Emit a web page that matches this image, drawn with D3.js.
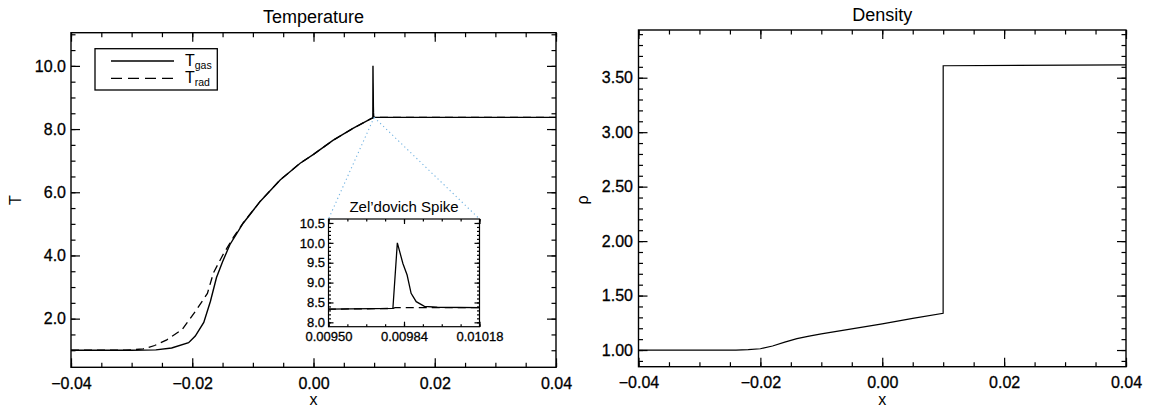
<!DOCTYPE html>
<html lang="en">
<head>
<title>Temperature and density</title>
<meta charset="utf-8">
<script src="https://d3js.org/d3.v7.min.js"></script>
<style type="text/css">
  body { margin: 0; background: #fff; }
  svg { font-family: 'Liberation Sans', Arial, Helvetica, sans-serif; }
  .tick line { stroke: #000; stroke-width: 1.2; }
  .tick text { fill: #000; stroke: #000; stroke-width: 0.3; }
</style>
</head>
<body>
<div id="chart"></div>
<script>

/* Data */
/* ========================== */

// Temperature panel
var tgasX = [-0.040, -0.030, -0.026, -0.0234, -0.0206, -0.0195, -0.0181, -0.0170, -0.0160, -0.0150,
             -0.0138, -0.0116, -0.0088, -0.0055, -0.0022, 0.0000, 0.0032, 0.0065, 0.0095, 0.00979,
             0.00981, 0.009835, 0.009854, 0.009872, 0.009895, 0.009932, 0.00999, 0.0102, 0.040];
var tgasY = [1.00, 1.00, 1.01, 1.07, 1.24, 1.45, 1.88, 2.55, 3.30, 3.80,
             4.34, 5.02, 5.71, 6.39, 6.92, 7.20, 7.64, 8.02, 8.33, 8.35,
             10.00, 9.48, 9.19, 8.73, 8.52, 8.40, 8.38, 8.37, 8.37];

var tradX = [-0.040, -0.031, -0.0281, -0.0262, -0.0242, -0.0217, -0.0193, -0.0175, -0.0165, -0.0150,
             -0.0132, -0.0116, -0.0088, -0.0055, -0.0022, 0.0000, 0.0032, 0.0065, 0.0095, 0.00979,
             0.0098, 0.040];
var tradY = [1.00, 1.00, 1.04, 1.15, 1.33, 1.65, 2.28, 2.80, 3.45, 4.00,
             4.58, 5.03, 5.71, 6.39, 6.92, 7.20, 7.64, 8.02, 8.33, 8.35,
             8.37, 8.37];

var tempXTicks = [-0.04, -0.02, 0.00, 0.02, 0.04];
var tempYTicks = [2.0, 4.0, 6.0, 8.0, 10.0];

// Inset (Zel'dovich spike)
var insetXTicks = [0.00950, 0.00984, 0.01018];
var insetYTicks = [8.0, 8.5, 9.0, 9.5, 10.0, 10.5];

// Density panel
var rhoX = [-0.040, -0.024, -0.022, -0.020, -0.018, -0.016, -0.014, -0.012, -0.010, -0.006,
            0.0000, 0.0050, 0.00999, 0.0100, 0.040];
var rhoY = [1.000, 1.000, 1.003, 1.012, 1.037, 1.072, 1.104, 1.128, 1.148, 1.185,
            1.240, 1.290, 1.337, 3.610, 3.617];

var rhoYTicks = [1.00, 1.50, 2.00, 2.50, 3.00, 3.50];

var seriesNames = ['gas', 'rad'];


/* Set up svg */
/* ========== */

var width = 1152,
    height = 411;

var svg = d3.select('#chart').append('svg')
    .attr('width', width)
    .attr('height', height);

function toPoints(xs, ys) {
  return xs.map(function(d, i) { return [d, ys[i]]; });
}

// Draws a framed panel with inward ticks on all four sides
function drawFrame(g, x, y, o) {

  var w = x.range()[1] - x.range()[0],
      h = y.range()[0] - y.range()[1];

  var axisFns = [d3.axisBottom, d3.axisTop, d3.axisLeft, d3.axisRight];
  var sides = [
    { tr: [0, h], vals: o.xTicks, fmt: o.xFmt, minor: o.xMinor },
    { tr: [0, 0], vals: o.xTicks, fmt: null,   minor: o.xMinor },
    { tr: [0, 0], vals: o.yTicks, fmt: o.yFmt, minor: o.yMinor },
    { tr: [w, 0], vals: o.yTicks, fmt: null,   minor: o.yMinor }
  ];

  sides.forEach(function(s, i) {
    var isX = i < 2;
    var sc = isX ? x : y;

    // major ticks (labels on bottom and left only)
    var major = g.append('g')
        .attr('transform', 'translate(' + s.tr + ')')
        .call(axisFns[i](sc).tickValues(s.vals)
          .tickSize(-o.major)
          .tickSizeOuter(0)
          .tickPadding(isX ? o.xPad : o.yPad)
          .tickFormat(s.fmt ? d3.format(s.fmt) : ''))
        .attr('font-size', o.fontSize)
        .attr('font-family', null);
    major.select('.domain').remove();

    // minor ticks
    var mg = g.append('g')
        .attr('transform', 'translate(' + s.tr + ')')
        .call(axisFns[i](sc).tickValues(s.minor)
          .tickSize(-o.minorLen)
          .tickSizeOuter(0)
          .tickFormat(''));
    mg.select('.domain').remove();
  });

  g.append('rect')
      .attr('width', w)
      .attr('height', h)
      .attr('fill', 'none')
      .attr('stroke', '#000')
      .attr('stroke-width', o.frame);
}

function range(a, b, step) {
  var out = [];
  var n = Math.round((b - a) / step);
  for (var i = 0; i <= n; i++) out.push(+(a + i * step).toFixed(8));
  return out;
}


/* Temperature panel */
/* ================= */

var tx = d3.scaleLinear().domain([-0.04, 0.04]).range([0, 485]);
var ty = d3.scaleLinear().domain([0.46, 11.05]).range([334.6, 0]);

var gT = svg.append('g').attr('transform', 'translate(71,32.7)');

var lineT = d3.line()
    .x(function(d) { return tx(d[0]); })
    .y(function(d) { return ty(d[1]); });

gT.append('path')
    .datum(toPoints(tradX, tradY))
    .attr('d', lineT)
    .attr('fill', 'none')
    .attr('stroke', '#000')
    .attr('stroke-width', 1.3)
    .attr('stroke-dasharray', '8,5');

gT.append('path')
    .datum(toPoints(tgasX, tgasY))
    .attr('d', lineT)
    .attr('fill', 'none')
    .attr('stroke', '#000')
    .attr('stroke-width', 1.4);

drawFrame(gT, tx, ty, {
  xTicks: tempXTicks, yTicks: tempYTicks, xFmt: '.2f', yFmt: '.1f',
  xMinor: range(-0.04, 0.04, 0.005), yMinor: range(1.0, 11.0, 0.5),
  major: 9, minorLen: 4.5, xPad: 10, yPad: 5, fontSize: 16, frame: 1.4
});

gT.append('text')
    .attr('x', 242.5)
    .attr('y', -9.4)
    .attr('text-anchor', 'middle')
    .attr('font-size', 18)
    .text('Temperature');

gT.append('text')
    .attr('x', 242.5)
    .attr('y', 372)
    .attr('text-anchor', 'middle')
    .attr('font-size', 16)
    .text('x');

svg.append('text')
    .attr('transform', 'translate(21,200) rotate(-90)')
    .attr('text-anchor', 'middle')
    .attr('font-size', 16)
    .text('T');

// Legend
var legend = gT.append('g').attr('transform', 'translate(24,16)');

legend.append('rect')
    .attr('width', 122.3)
    .attr('height', 41.3)
    .attr('fill', '#fff')
    .attr('stroke', '#000')
    .attr('stroke-width', 1.3);

seriesNames.forEach(function(name, i) {
  var yy = 12.3 + i * 17.3;
  legend.append('line')
      .attr('x1', 16).attr('x2', 79)
      .attr('y1', yy).attr('y2', yy)
      .attr('stroke', '#000')
      .attr('stroke-width', 1.3)
      .attr('stroke-dasharray', i === 0 ? null : '11,6');
  var t = legend.append('text')
      .attr('x', 90)
      .attr('y', yy + 5)
      .attr('font-size', 16)
      .text('T');
  t.append('tspan')
      .attr('font-size', 10.5)
      .attr('dy', 3)
      .text(name);
});


/* Inset: Zel'dovich spike */
/* ======================= */

var ix = d3.scaleLinear().domain([0.00950, 0.01018]).range([0, 151]);
var iy = d3.scaleLinear().domain([7.89, 10.6]).range([107.7, 0]);

var insetLeft = 328.5, insetTop = 219;

// Dotted connectors from the spike base to the inset corners
var spikeBase = [71 + tx(0.0100), 32.7 + ty(8.37)];
[[insetLeft, insetTop], [insetLeft + 151, insetTop]].forEach(function(c) {
  svg.append('line')
      .attr('x1', spikeBase[0]).attr('y1', spikeBase[1])
      .attr('x2', c[0]).attr('y2', c[1])
      .attr('stroke', '#6fb1e0')
      .attr('stroke-width', 1.1)
      .attr('stroke-dasharray', '1.2,3');
});

var gI = svg.append('g').attr('transform', 'translate(' + insetLeft + ',' + insetTop + ')');

gI.append('rect')
    .attr('width', 151)
    .attr('height', 107.7)
    .attr('fill', '#fff');

gI.append('clipPath').attr('id', 'inset-clip')
  .append('rect')
    .attr('width', 151)
    .attr('height', 107.7);

var lineI = d3.line()
    .x(function(d) { return ix(d[0]); })
    .y(function(d) { return iy(d[1]); });

var gIc = gI.append('g').attr('clip-path', 'url(#inset-clip)');

gIc.append('path')
    .datum(toPoints(tradX, tradY))
    .attr('d', lineI)
    .attr('fill', 'none')
    .attr('stroke', '#000')
    .attr('stroke-width', 1.3)
    .attr('stroke-dasharray', '8,5');

gIc.append('path')
    .datum(toPoints(tgasX, tgasY))
    .attr('d', lineI)
    .attr('fill', 'none')
    .attr('stroke', '#000')
    .attr('stroke-width', 1.3);

drawFrame(gI, ix, iy, {
  xTicks: insetXTicks, yTicks: insetYTicks, xFmt: '.5f', yFmt: '.1f',
  xMinor: range(0.0095, 0.01018, 0.000085), yMinor: range(8.0, 10.5, 0.1),
  major: 5, minorLen: 2.5, xPad: 5.5, yPad: 3.5, fontSize: 13, frame: 1.2
});

gI.append('text')
    .attr('x', 75.5)
    .attr('y', -7.5)
    .attr('text-anchor', 'middle')
    .attr('font-size', 15)
    .text('Zel\u2019dovich Spike');


/* Density panel */
/* ============= */

var rx = d3.scaleLinear().domain([-0.04, 0.04]).range([0, 487.5]);
var ry = d3.scaleLinear().domain([0.847, 3.938]).range([336.7, 0]);

var gR = svg.append('g').attr('transform', 'translate(638.5,30)');

gR.append('path')
    .datum(toPoints(rhoX, rhoY))
    .attr('d', d3.line()
      .x(function(d) { return rx(d[0]); })
      .y(function(d) { return ry(d[1]); }))
    .attr('fill', 'none')
    .attr('stroke', '#000')
    .attr('stroke-width', 1.2);

drawFrame(gR, rx, ry, {
  xTicks: tempXTicks, yTicks: rhoYTicks, xFmt: '.2f', yFmt: '.2f',
  xMinor: range(-0.04, 0.04, 0.005), yMinor: range(0.9, 3.9, 0.1),
  major: 9, minorLen: 4.5, xPad: 10, yPad: 5.5, fontSize: 16, frame: 1.4
});

gR.append('text')
    .attr('x', 243.75)
    .attr('y', -9.5)
    .attr('text-anchor', 'middle')
    .attr('font-size', 18)
    .text('Density');

gR.append('text')
    .attr('x', 243.75)
    .attr('y', 374.5)
    .attr('text-anchor', 'middle')
    .attr('font-size', 16)
    .text('x');

svg.append('text')
    .attr('transform', 'translate(588,200) rotate(-90)')
    .attr('text-anchor', 'middle')
    .attr('font-size', 16)
    .text('\u03c1');

</script>
</body>
</html>
